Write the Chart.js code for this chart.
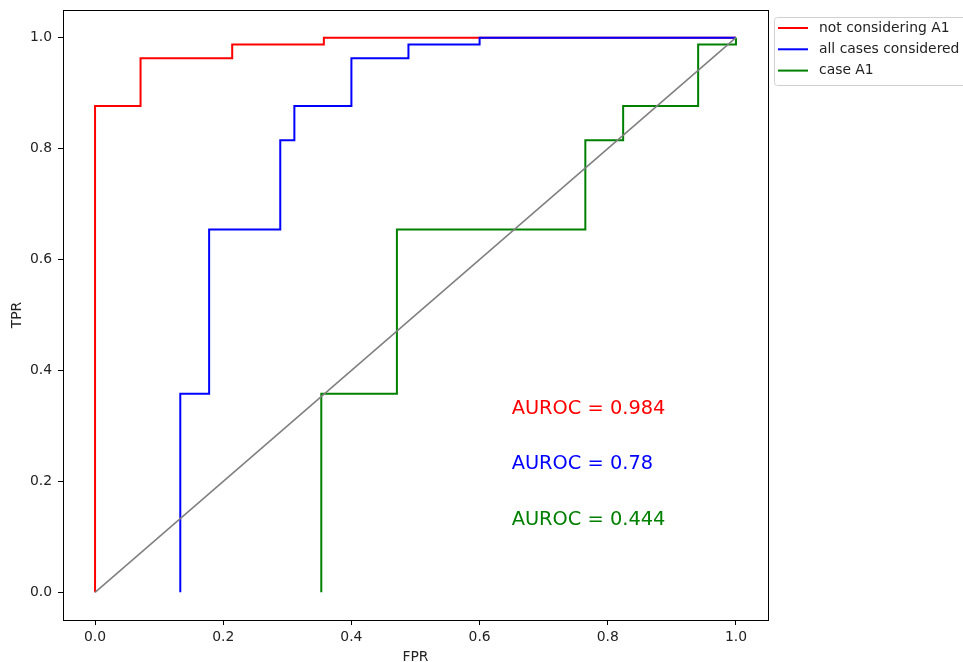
<!DOCTYPE html>
<html>
<head>
<meta charset="utf-8">
<script src="https://cdn.jsdelivr.net/npm/chart.js@4/dist/chart.umd.min.js"></script>
<style>
  html, body { margin: 0; padding: 0; background: #fff; }
  #wrap { width: 963px; height: 662px; position: relative; }
</style>
</head>
<body>
<div id="wrap"><canvas id="rocChart"></canvas></div>
<script>
// ROC curves (FPR / TPR corner points)
const notA1Fpr = [0, 0, 0.071, 0.071, 0.214, 0.214, 0.357, 0.357, 1.0];
const notA1Tpr = [0, 0.877, 0.877, 0.963, 0.963, 0.988, 0.988, 1.0, 1.0];

const allFpr = [0.133, 0.133, 0.178, 0.178, 0.289, 0.289, 0.311, 0.311, 0.4, 0.4, 0.489, 0.489, 0.6, 0.6, 1.0];
const allTpr = [0, 0.358, 0.358, 0.654, 0.654, 0.815, 0.815, 0.877, 0.877, 0.963, 0.963, 0.988, 0.988, 1.0, 1.0];

const caseA1Fpr = [0.353, 0.353, 0.471, 0.471, 0.765, 0.765, 0.824, 0.824, 0.941, 0.941, 1.0, 1.0];
const caseA1Tpr = [0, 0.358, 0.358, 0.654, 0.654, 0.815, 0.815, 0.877, 0.877, 0.988, 0.988, 1.0];

const chanceFpr = [0, 1];
const chanceTpr = [0, 1];

const curveLabels = ["not considering A1", "all cases considered", "case A1"];
const curveColors = ["#ff0000", "#0000ff", "#008000"];
const aurocValues = ["0.984", "0.78", "0.444"];
const aurocY = [0.322, 0.222, 0.122];
const aurocX = 0.65;

const tickValues = [0, 0.2, 0.4, 0.6, 0.8, 1.0];

const FONT = "'DejaVu Sans', sans-serif";
const LABEL_SIZE = 13.9;

function toPoints(xs, ys) {
  return xs.map((x, i) => ({ x: x, y: ys[i] }));
}

function curve(label, xs, ys, color, order) {
  return {
    label: label,
    data: toPoints(xs, ys),
    borderColor: color,
    backgroundColor: color,
    borderWidth: 2,
    pointRadius: 0,
    showLine: true,
    fill: false,
    tension: 0,
    order: order,
  };
}

// frame, AUROC text and legend
const decorations = {
  id: "decorations",
  afterDraw(chart) {
    const ctx = chart.ctx;
    const area = chart.chartArea;
    const xs = chart.scales.x;
    const ys = chart.scales.y;

    ctx.save();
    ctx.strokeStyle = "#000";
    ctx.lineWidth = 1;
    ctx.strokeRect(Math.round(area.left) + 0.5, Math.round(area.top) + 0.5,
      Math.round(area.right - area.left), Math.round(area.bottom - area.top));

    ctx.font = "19.4px " + FONT;
    ctx.textAlign = "left";
    ctx.textBaseline = "alphabetic";
    aurocValues.forEach((v, i) => {
      ctx.fillStyle = curveColors[i];
      ctx.fillText("AUROC = " + v, xs.getPixelForValue(aurocX), ys.getPixelForValue(aurocY[i]));
    });

    // legend box outside the axes
    const lx = area.right + 6;
    const ly = 17;
    ctx.fillStyle = "rgba(255,255,255,0.8)";
    ctx.strokeStyle = "#d0d0d0";
    ctx.lineWidth = 1;
    ctx.beginPath();
    ctx.roundRect(lx + 0.5, ly + 0.5, 200, 68, 3);
    ctx.fill();
    ctx.stroke();

    ctx.font = LABEL_SIZE + "px " + FONT;
    ctx.textBaseline = "middle";
    curveLabels.forEach((label, i) => {
      const y = ly + 11 + i * 21.3;
      ctx.strokeStyle = curveColors[i];
      ctx.lineWidth = 2;
      ctx.beginPath();
      ctx.moveTo(lx + 4, y);
      ctx.lineTo(lx + 34, y);
      ctx.stroke();
      ctx.fillStyle = "#222";
      ctx.fillText(label, lx + 45, y);
    });
    ctx.restore();
  },
};

const chart = new Chart("rocChart", {
  type: "scatter",
  data: {
    datasets: [
      curve(curveLabels[0], notA1Fpr, notA1Tpr, curveColors[0], 4),
      curve(curveLabels[1], allFpr, allTpr, curveColors[1], 3),
      curve(curveLabels[2], caseA1Fpr, caseA1Tpr, curveColors[2], 2),
      Object.assign(curve("chance", chanceFpr, chanceTpr, "#808080", 1), { borderWidth: 1.6 }),
    ],
  },
  options: {
    responsive: true,
    maintainAspectRatio: false,
    animation: false,
    layout: { padding: { top: 10, right: 195, left: 0, bottom: 0 } },
    plugins: {
      legend: { display: false },
      tooltip: { enabled: false },
    },
    scales: {
      x: {
        type: "linear",
        min: -0.05,
        max: 1.05,
        afterBuildTicks: (scale) => { scale.ticks = tickValues.map((v) => ({ value: v })); },
        afterFit: (scale) => {
          scale.height = 42;
          scale.paddingLeft = 0;
          scale.paddingRight = 0;
        },
        grid: { drawOnChartArea: false, drawTicks: true, tickLength: 5, color: "#000" },
        border: { display: true, color: "#000" },
        ticks: {
          padding: 4,
          maxRotation: 0,
          color: "#222",
          font: { family: FONT, size: LABEL_SIZE },
          callback: (v) => v.toFixed(1),
        },
        title: {
          display: true,
          text: "FPR",
          color: "#222",
          padding: { top: 0, bottom: -4 },
          font: { family: FONT, size: LABEL_SIZE },
        },
      },
      y: {
        type: "linear",
        min: -0.05,
        max: 1.05,
        afterBuildTicks: (scale) => { scale.ticks = tickValues.map((v) => ({ value: v })); },
        afterFit: (scale) => {
          scale.width = 63;
          scale.paddingTop = 0;
          scale.paddingBottom = 0;
        },
        grid: { drawOnChartArea: false, drawTicks: true, tickLength: 5, color: "#000" },
        border: { display: true, color: "#000" },
        ticks: {
          padding: 6,
          color: "#222",
          font: { family: FONT, size: LABEL_SIZE },
          callback: (v) => v.toFixed(1),
        },
        title: {
          display: true,
          text: "TPR",
          color: "#222",
          padding: { top: 9, bottom: 0 },
          font: { family: FONT, size: LABEL_SIZE },
        },
      },
    },
  },
  plugins: [decorations],
});
</script>
</body>
</html>
